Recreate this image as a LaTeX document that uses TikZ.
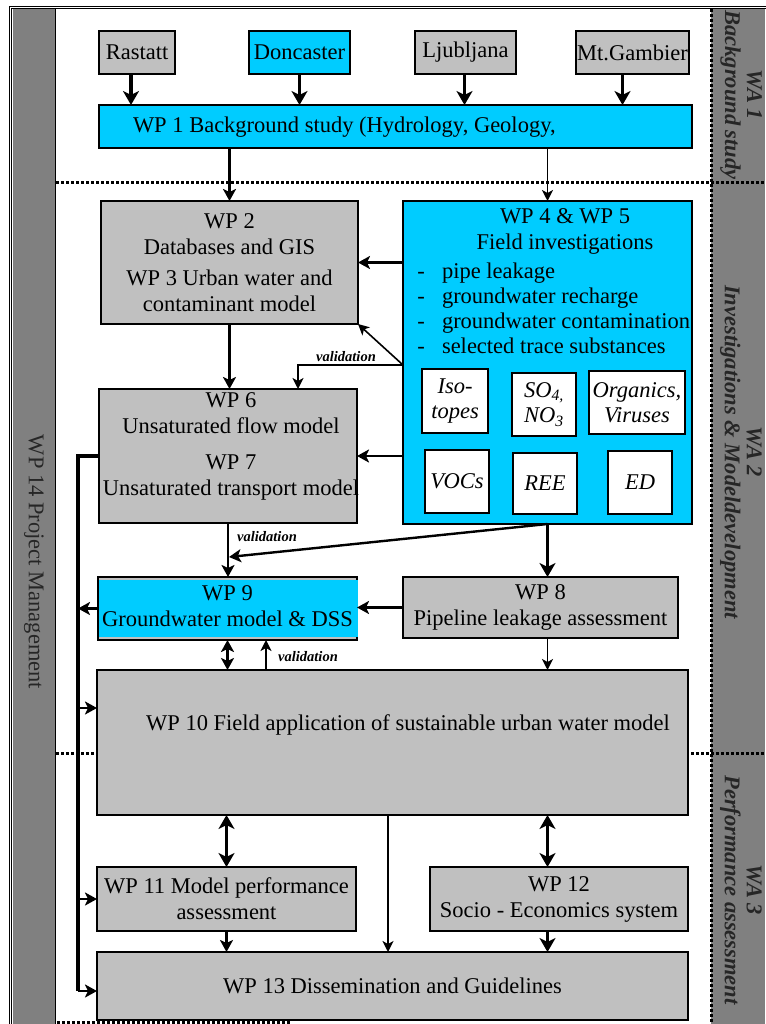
\documentclass[tikz,border=0pt]{standalone}
\usepackage{fontspec}
\setmainfont{Liberation Serif}
\usetikzlibrary{arrows.meta,calc}
\definecolor{mygray}{RGB}{192,192,192}
\definecolor{mycyan}{RGB}{0,204,255}
\definecolor{mydark}{RGB}{128,128,128}

\begin{document}
\begin{tikzpicture}[x=1pt, y=-1pt,
  every node/.style={font=\fontsize{22.5}{26}\selectfont, inner sep=0pt, outer sep=0pt},
  gbox/.style={draw, line width=1.3pt, fill=mygray, align=center},
  cbox/.style={draw, line width=1.3pt, fill=mycyan, align=center},
  wbox/.style={draw, line width=1.3pt, fill=white, align=center, font=\fontsize{22.5}{25}\selectfont\itshape},
  txt/.style={align=center},
  val/.style={font=\fontsize{14.5}{16}\selectfont\bfseries\itshape},
  wa/.style={rotate=-90, align=center, text=black!85, font=\fontsize{22.5}{22}\selectfont\bfseries\itshape},
  sep/.style={line width=3pt, dash pattern=on 3pt off 2pt},
  athin/.style={line width=1.6pt, -{Stealth[length=11pt,width=11pt,inset=3pt]}},
  amid/.style={line width=2.4pt, -{Stealth[length=12pt,width=13pt,inset=3pt]}},
  athick/.style={line width=3.6pt, -{Stealth[length=14pt,width=16pt,inset=4pt]}},
  tipm/.style={{Stealth[length=12pt,width=13pt,inset=3pt]}-{Stealth[length=12pt,width=13pt,inset=3pt]}},
  tipk/.style={{Stealth[length=14pt,width=16pt,inset=4pt]}-{Stealth[length=14pt,width=16pt,inset=4pt]}},
]
\useasboundingbox (0,0) rectangle (765,1024);

% frame and side columns
\fill[mydark] (13,9) rectangle (55,1024);
\fill[mydark] (711,9) rectangle (765,1024);
\draw[line width=0.8pt] (55,9) -- (55,1024);
\draw[double, double distance=1.4pt, line width=1.2pt] (10.5,1030) -- (10.5,7.5) -- (770,7.5);
\draw[sep] (711,9) -- (711,1024);
\draw[sep] (56,183) -- (765,183);
\draw[sep] (56,753) -- (765,753);
\draw[sep] (57,1022) -- (290,1022);

\node[rotate=-90, text=black!85] (wp14) at (34,562) {WP 14 Project Management};
\node[wa] (wa1) at (741,95) {WA 1\\Background study};
\node[wa] (wa2) at (741,452) {WA 2\\Investigations \& Modeldevelopment};
\node[wa] (wa3) at (741,890) {WA 3\\Performance assessment};

% sites
\foreach \n/\t/\c/\x/\w in {rastatt/Rastatt/mygray/137/76pt, doncaster/Doncaster/mycyan/299.5/101pt,
    ljubljana/Ljubljana/mygray/465.5/101pt, gambier/Mt.Gambier/mygray/632.5/113pt} {
  \node[draw, line width=1.3pt, fill=\c, minimum width=\w, minimum height=43pt] (\n) at (\x,52.5) {\t};
}

% WP 1
\node[cbox, minimum width=593pt, minimum height=43pt] (wp1) at (395.5,126.5) {};
\node[anchor=west] (wp1t) at (133,127) {WP 1 Background study (Hydrology, Geology,};

\foreach \n/\dx in {rastatt/-6, doncaster/0, ljubljana/-1, gambier/-10} {
  \draw[athick] ($(\n.south)+(\dx,0)$) -- ($(\n.south |- wp1.north)+(\dx,0)$);
}

% WP 2 / 3
\node[gbox, minimum width=257pt, minimum height=123pt] (wp2) at (229.5,262.5)
  {WP 2\\Databases and GIS\\[5pt]WP 3 Urban water and\\contaminant model};

% WP 4 & 5
\node[cbox, minimum width=289pt, minimum height=323pt] (wp45) at (547.5,362.5) {};
\node[txt] (wp45t) at (565,231) {WP 4 \& WP 5\\Field investigations};
\foreach \t[count=\i] in {pipe leakage, groundwater recharge, groundwater contamination, selected trace substances} {
  \node[anchor=base] (d\i) at (421,253+25*\i) {-};
  \node[anchor=base west] (b\i) at (442,253+25*\i) {\t};
}
\node[wbox, minimum width=66pt, minimum height=64pt] (iso) at (455,401) {Iso-\\topes};
\node[wbox, minimum width=64pt, minimum height=63pt] (so) at (544,404.5) {SO\textsubscript{4,}\\NO\textsubscript{3}};
\node[wbox, minimum width=96pt, minimum height=63pt] (org) at (637,402.5) {Organics,\\Viruses};
\node[wbox, minimum width=64pt, minimum height=63pt] (voc) at (457,481.5) {VOCs};
\node[wbox, minimum width=64pt, minimum height=61pt] (ree) at (545,483.5) {REE};
\node[wbox, minimum width=64pt, minimum height=63pt] (ed) at (640,482.5) {ED};

% WP 6 / 7
\node[gbox, minimum width=258pt, minimum height=134pt] (wp6) at (228,456) {};
\node[txt] (wp6t) at (231,446) {WP 6\\Unsaturated flow model\\[10pt]WP 7\\Unsaturated transport model};

% WP 9
\node[gbox, minimum width=259pt, minimum height=63pt] (wp9) at (227.5,608.5) {};
\fill[mycyan] ([shift={(1pt,-3pt)}]wp9.north west) rectangle ([shift={(1pt,3pt)}]wp9.south east);
\node[txt] (wp9t) at (227.5,606) {WP 9\\Groundwater model \& DSS};

% WP 8
\node[gbox, minimum width=275pt, minimum height=61pt] (wp8) at (540.5,607.5) {WP 8\\Pipeline leakage assessment};

% WP 10
\node[gbox, minimum width=591pt, minimum height=145pt] (wp10) at (392.5,742.5) {};
\node (wp10t) at (408,725) {WP 10 Field application of sustainable urban water model};

% WP 11 - 13
\node[gbox, minimum width=259pt, minimum height=64pt] (wp11) at (226.5,899) {WP 11 Model performance\\assessment};
\node[gbox, minimum width=258pt, minimum height=64pt] (wp12) at (559,899) {WP 12\\Socio - Economics system};
\node[gbox, minimum width=591pt, minimum height=68pt] (wp13) at (392.5,986) {WP 13 Dissemination and Guidelines};

% connectors
\draw[amid] (wp2.north |- wp1.south) -- (wp2.north);
\draw[athin] (wp45.north |- wp1.south) -- (wp45.north);
\draw[amid] (wp45.west |- wp2.east) -- (wp2.east);
\coordinate (v1) at (403,365);
\draw[athin] (v1) -- (wp2.south east);
\draw[athin] (v1) -| ([xshift=70pt]wp6.north);
\node[val] (val1) at (346,357) {validation};
\draw[amid] (wp2.south) -- (wp2.south |- wp6.north);
\draw[amid] (wp45.west |- wp6.east) -- (wp6.east);

\draw[amid] (wp6.south) -- (wp6.south |- wp9.north);
\node[val] (val2) at (267,537) {validation};
\coordinate (j1) at (229,557);
\draw[amid] (wp45.south) -- (j1);
\draw[athick] (wp45.south) -- (wp45.south |- wp8.north);
\draw[amid] (wp8.west) -- (wp8.west -| wp9.east);
\draw[athin] (wp45.south |- wp8.south) -- (wp45.south |- wp10.north);

\draw[amid, tipm] (wp9.south) -- (wp9.south |- wp10.north);
\draw[athin] ([xshift=38.5pt]wp10.north -| wp9.south) -- ([xshift=38.5pt]wp9.south);
\node[val] (val3) at (308,657) {validation};

% project management line
\coordinate (pmtop) at (78,456);
\coordinate (pmbot) at (78,991);
\coordinate (in10) at ([yshift=34.5pt]wp10.west);
\draw[line width=3.4pt] (wp6.west) -- (pmtop) -- (pmbot);
\draw[amid] (wp9.west) -- (wp9.west -| pmtop);
\draw[amid] (in10 -| pmtop) -- (in10);
\draw[amid] (wp11.west -| pmtop) -- (wp11.west);
\draw[amid] (pmbot) -- (pmbot -| wp13.west);

\draw[athick, tipk] (wp11.north |- wp10.south) -- (wp11.north);
\draw[athick, tipk] (wp45.south |- wp10.south) -- (wp45.south |- wp12.north);
\draw[athin] ([xshift=-4.5pt]wp10.south) -- ([xshift=-4.5pt]wp13.north);
\draw[amid] (wp11.south) -- (wp11.south |- wp13.north);
\draw[athick] (wp45.south |- wp12.south) -- (wp45.south |- wp13.north);
\end{tikzpicture}
\end{document}
